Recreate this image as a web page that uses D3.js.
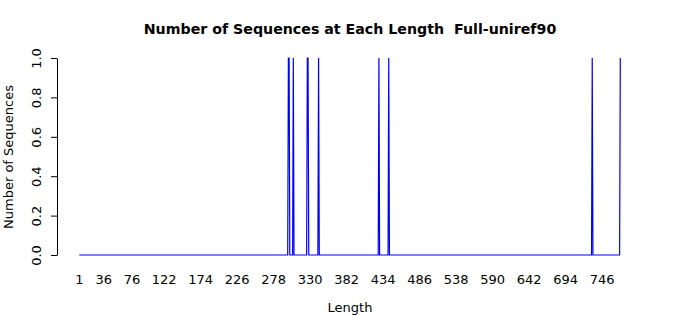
<html>
<head>
<script src="https://d3js.org/d3.v7.min.js"></script>
<style>
  body { margin: 0; background: #fff; }
  text { font-family: "DejaVu Sans", sans-serif; fill: #000; }
</style>
</head>
<body>
<div id="chart"></div>
<script>
// lengths that occur (count 1 each), everything else up to maxLength is 0
const spikeLengths = [299, 300, 306, 326, 327, 342, 428, 442, 732, 772];
const spikeCounts  = [1, 1, 1, 1, 1, 1, 1, 1, 1, 1];
const minLength = 1;
const maxLength = 772;
const xTickLabels = [1, 36, 76, 122, 174, 226, 278, 330, 382, 434, 486, 538, 590, 642, 694, 746];
const yTicks = [0, 0.2, 0.4, 0.6, 0.8, 1.0];

const W = 700, H = 315;
const svg = d3.select("#chart").append("svg")
  .attr("width", W).attr("height", H);

const x = d3.scaleLinear().domain([minLength, maxLength]).range([79.3, 620.3]);
const y = d3.scaleLinear().domain([0, 1]).range([255, 58]);

// build polyline like R type="l" on integer lengths
const counts = new Map(spikeLengths.map((l, i) => [l, spikeCounts[i]]));
const pts = [[minLength, 0]];
spikeLengths.forEach(l => {
  if (!counts.has(l - 1)) pts.push([l - 1, 0]);
  pts.push([l, counts.get(l)]);
  if (!counts.has(l + 1) && l + 1 <= maxLength) pts.push([l + 1, 0]);
});
if (pts[pts.length - 1][0] !== maxLength) pts.push([maxLength, 0]);

svg.append("path")
  .datum(pts)
  .attr("fill", "none")
  .attr("stroke", "#0000ff")
  .attr("stroke-width", 1.2)
  .attr("d", d3.line().x(d => x(d[0])).y(d => y(d[1])));

// y axis
const yAxis = svg.append("g")
  .attr("transform", "translate(57,0)")
  .call(d3.axisLeft(y).tickValues(yTicks).tickFormat(d3.format(".1f")).tickSize(6).tickSizeOuter(0));
yAxis.select(".domain").attr("stroke", "#000");
yAxis.selectAll(".tick line").attr("stroke", "#000");
yAxis.selectAll(".tick text")
  .attr("font-size", 13)
  .attr("font-family", "DejaVu Sans")
  .attr("fill", "#000")
  .attr("text-anchor", "middle")
  .attr("transform", "rotate(-90)")
  .attr("x", 0).attr("y", 0)
  .attr("dy", "-16");

// x labels only (no axis line)
svg.append("g").selectAll("text")
  .data(xTickLabels)
  .enter().append("text")
  .attr("x", d => x(d))
  .attr("y", 284)
  .attr("text-anchor", "middle")
  .attr("font-size", 13)
  .text(d => d);

svg.append("text")
  .attr("x", 350).attr("y", 312)
  .attr("text-anchor", "middle")
  .attr("font-size", 13)
  .text("Length");

svg.append("text")
  .attr("transform", "translate(13,157) rotate(-90)")
  .attr("text-anchor", "middle")
  .attr("font-size", 13)
  .text("Number of Sequences");

svg.append("text")
  .attr("x", 350).attr("y", 34)
  .attr("text-anchor", "middle")
  .attr("font-size", 14.2)
  .attr("font-weight", "bold")
  .style("white-space", "pre")
  .text("Number of Sequences at Each Length  Full-uniref90");
</script>
</body>
</html>
